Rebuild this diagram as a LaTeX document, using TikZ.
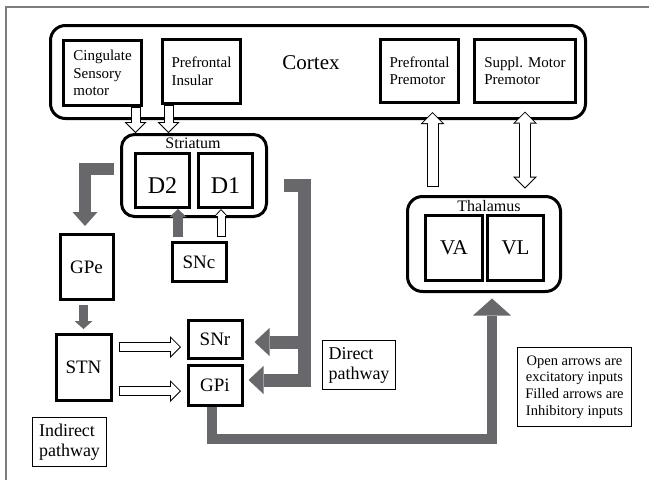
\documentclass[tikz,border=0pt]{standalone}
\usepackage{fontspec}
\setmainfont{Liberation Serif}
\usetikzlibrary{arrows.meta, calc}

\definecolor{inhibgray}{RGB}{104,104,108}
\definecolor{framegray}{RGB}{125,125,125}

\tikzset{
  region/.style={draw, line width=3pt, rounded corners=15pt, inner sep=0pt},
  area/.style={draw, line width=3pt, inner sep=0pt, align=left, font=\fontsize{15}{17.5}\selectfont},
  nucleus/.style={draw, line width=3pt, inner sep=0pt, font=\fontsize{19}{22}\selectfont},
  note/.style={draw, line width=0.8pt, inner sep=0pt, font=\fontsize{18}{20}\selectfont},
  % outlined block arrow: black pass, then white shaft and white inner head
  openarrow/.style n args={7}{draw=black, line width=#1,
    -{Triangle[width=#3,length=#4,line width=0pt]},
    postaction={draw=white, line width=#2, shorten <=1pt, shorten >=#7, arrows=-},
    postaction={draw=white, line width=#2, shorten <=1pt, shorten >=1.4pt,
      -{Triangle[width=#5,length=#6,line width=0pt]}}},
  excit/.style={openarrow={10pt}{8pt}{22pt}{11pt}{17.2pt}{8.6pt}{6pt}},
  excit small/.style={openarrow={9pt}{7pt}{15pt}{8pt}{10.3pt}{5.5pt}{5pt}},
  excit big/.style={openarrow={12pt}{10pt}{24pt}{12pt}{19.2pt}{9.6pt}{7pt}},
  excit both/.style={draw=black, line width=12pt,
    {Triangle[width=24pt,length=12pt,line width=0pt]}-{Triangle[width=24pt,length=12pt,line width=0pt]},
    postaction={draw=white, line width=10pt, shorten <=7pt, shorten >=7pt, arrows=-},
    postaction={draw=white, line width=10pt, shorten <=1.4pt, shorten >=1.4pt,
      {Triangle[width=19.2pt,length=9.6pt,line width=0pt]}-{Triangle[width=19.2pt,length=9.6pt,line width=0pt]}}},
  inhib/.style n args={3}{draw=inhibgray, line width=#1,
    -{Triangle[width=#2,length=#3,line width=0pt]}},
}

\begin{document}
\begin{tikzpicture}[x=1pt, y=-1pt]
\useasboundingbox (0,0) rectangle (649,480);
\draw [framegray, line width=1.5pt] (6,480) -- (6,7) -- (649,7);

\node [region, minimum width=535pt, minimum height=93pt] (cortex) at (318,72) {};
\node [font=\fontsize{21}{24}\selectfont, anchor=base] (cortexlabel) at (311,69) {Cortex};
\node [area, minimum width=78pt, minimum height=65pt] (cingulate) at (102.5,73) {Cingulate\\Sensory\\motor};
\node [area, minimum width=78pt, minimum height=64pt] (insular) at (201.5,71.5) {Prefrontal\\Insular};
\node [area, minimum width=78pt, minimum height=63pt] (prepremotor) at (419.5,71) {Prefrontal\\Premotor};
\node [area, minimum width=101pt, minimum height=63pt] (supplmotor) at (525,71) {Suppl. Motor\\Premotor};

\node [region, rounded corners=13pt, minimum width=145pt, minimum height=82pt] (striatum) at (194,175.5) {};
\node [font=\fontsize{16}{18}\selectfont, anchor=base] (striatumlabel) at ($(striatum.north)+(-1,15)$) {Striatum};
\node [nucleus, font=\fontsize{24}{26}\selectfont, text height=25pt, text depth=0pt,
       minimum width=54pt, minimum height=54pt] (dtwo) at (162.5,180.5) {D2};
\node [nucleus, font=\fontsize{24}{26}\selectfont, text height=25pt, text depth=0pt,
       minimum width=54pt, minimum height=54pt] (done) at (225.5,180.5) {D1};

\node [nucleus, minimum width=54pt, minimum height=39pt] (snc) at (199,262) {SNc};
\node [nucleus, minimum width=53pt, minimum height=65pt] (gpe) at (86.5,267) {GPe};
\node [nucleus, minimum width=55pt, minimum height=66pt] (stn) at (83.5,367.5) {STN};
\node [nucleus, minimum width=54pt, minimum height=38pt] (snr) at (215,339.5) {SNr};
\node [nucleus, minimum width=54pt, minimum height=40pt] (gpi) at (215,385.5) {GPi};

\node [region, minimum width=153pt, minimum height=95pt] (thalamus) at (484,244) {};
\node [font=\fontsize{16}{18}\selectfont, anchor=base] (thalamuslabel) at ($(thalamus.north)+(5,16.5)$) {Thalamus};
\node [nucleus, font=\fontsize{21}{24}\selectfont, minimum width=57pt, minimum height=65pt] (va) at (454,248) {VA};
\node [nucleus, font=\fontsize{21}{24}\selectfont, minimum width=56pt, minimum height=65pt] (vl) at (515.5,248) {VL};

\node [note, align=left, minimum width=74pt, minimum height=49pt] (indirect) at (69.5,442) {Indirect\\pathway};
\node [note, align=left, minimum width=73pt, minimum height=49pt] (direct) at (359,365) {Direct\\pathway};
\node [note, align=center, font=\fontsize{14.5}{16.7}\selectfont, minimum width=114pt, minimum height=79pt] (legend)
      at (574.5,387) {Open arrows are\\excitatory inputs\\Filled arrows are\\Inhibitory inputs};

\draw [excit] ($(cingulate.south east)+(-7.5,0)$) -- ($(cingulate.south east |- striatum.north)+(-7.5,0)$);
\draw [excit] ($(insular.south west)+(7.5,0)$) -- ($(insular.south west |- striatum.north)+(7.5,0)$);
\draw [inhib={10pt}{17pt}{8pt}] ($(snc.north west)+(7.5,-4)$) -- ($(snc.north west |- dtwo.south)+(7.5,0)$);
\draw [excit small] ($(snc.north east)+(-6.5,-4)$) -- ($(snc.north east |- done.south)+(-6.5,0)$);

\draw [inhib={12pt}{25pt}{14pt}] ($(striatum.west)+(-6,-6.5)$) -| ($(gpe.north)+(-1.5,-7)$);
\draw [inhib={9pt}{18pt}{8pt}] ($(gpe.south)+(-3,4)$) -- ($(stn.north)+(0,-4)$);
\draw [excit] ($(stn.east |- snr.west)+(6,7.5)$) -- ($(snr.west)+(-5.5,7.5)$);
\draw [excit] ($(stn.east |- gpi.west)+(6,5.5)$) -- ($(gpi.west)+(-5.5,5.5)$);

\draw [inhib={13pt}{28pt}{15pt}] ($(striatum.east)+(15.5,9.5)$) -| ($(gpi.east)+(61,-5.5)$) -- ($(gpi.east)+(5,-5.5)$);
\draw [inhib={13pt}{28pt}{15pt}] ($(snr.east)+(61,2.5)$) -- ($(snr.east)+(11,2.5)$);
\draw [inhib={10pt}{38pt}{17pt}] ($(gpi.south)+(-3,0)$) -- ($(gpi.south)+(-3,31.5)$) -| ($(thalamus.south)+(8,5.5)$);

\draw [excit big] ($(thalamus.north west)+(26.5,-8)$) -- ($(prepremotor.south -| thalamus.north west)+(26.5,8)$);
\draw [excit both] ($(supplmotor.south)+(0,7.5)$) -- ($(supplmotor.south |- thalamus.north)+(0,-6.5)$);
\end{tikzpicture}
\end{document}
